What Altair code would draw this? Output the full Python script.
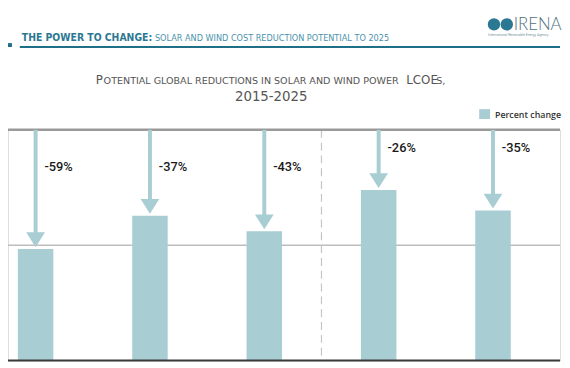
import altair as alt
import pandas as pd

# ---- data ----
categories = ["Solar PV", "CSP (PTC)", "CSP (ST)", "Onshore wind", "Offshore wind"]
values = [0.0966, 0.1256, 0.112, 0.1479, 0.130]          # bar heights (arbitrary LCOE units)
pct_labels = ["-59%", "-37%", "-43%", "-26%", "-35%"]
label_level = [0.1675, 0.1675, 0.1675, 0.1838, 0.1838]   # height of percentage labels
divider_after = ["CSP (ST)"]
grid_values = [0.1]
top_level = 0.2

BAR = "#a8cdd3"

df = pd.DataFrame({"cat": categories, "val": values, "lab": pct_labels, "ly": label_level})
df["top"] = top_level

W, H = 560, 234
xscale = alt.Scale(domain=categories, range=[-30, 550], paddingInner=0, paddingOuter=0)
yscale = alt.Scale(domain=[0, top_level])
X = alt.X("cat:N", scale=xscale, axis=None, sort=categories)

base = alt.Chart(df)

grid = alt.Chart(pd.DataFrame({"y": grid_values})).mark_rule(
    color="#bdbdbd", strokeWidth=1.5).encode(y=alt.Y("y:Q", scale=yscale, axis=None))

bars = base.mark_bar(size=36, color=BAR).encode(
    x=X, y=alt.Y("val:Q", scale=yscale, axis=None))

shaft = base.mark_rule(color=BAR, strokeWidth=4, y2Offset=-12).encode(
    x=X, y=alt.Y("top:Q", scale=yscale, axis=None), y2="val:Q")

arrow_path = "M-1,-0.79 L1,-0.79 L0,0.79 Z"
heads = base.mark_point(shape=arrow_path, size=361, filled=True, opacity=1,
                        color=BAR, strokeWidth=0, yOffset=-9.5).encode(
    x=X, y=alt.Y("val:Q", scale=yscale, axis=None))

labels = base.mark_text(align="left", baseline="middle", dx=9, font="Roboto",
                        fontSize=13, fontWeight=500, color="#1a1a1a").encode(
    x=X, y=alt.Y("ly:Q", scale=yscale, axis=None), text="lab:N")

divider = alt.Chart(pd.DataFrame({"cat": divider_after})).mark_rule(
    color="#c4c4c4", strokeWidth=1.2, strokeDash=[8, 5]).encode(
    x=alt.X("cat:N", scale=xscale, axis=None, sort=categories, bandPosition=1))

top_line = alt.Chart(pd.DataFrame({"y": [top_level]})).mark_rule(
    color="#9a9a9a", strokeWidth=2.5).encode(y=alt.Y("y:Q", scale=yscale, axis=None))
base_line = alt.Chart(pd.DataFrame({"y": [0.0]})).mark_rule(
    color="#3a3a3a", strokeWidth=2).encode(y=alt.Y("y:Q", scale=yscale, axis=None))

one = pd.DataFrame({"t": [""]})

def txt(s, x, y, **kw):
    return alt.Chart(pd.DataFrame({"t": [s]})).mark_text(**kw).encode(
        x=alt.value(x), y=alt.value(y), text="t:N")

# header (page coords minus 8 / 129)
hdr_bold = txt("THE POWER TO CHANGE:", 14, -90, align="left", baseline="alphabetic",
               font="DejaVu Sans Condensed, Liberation Sans Narrow, sans-serif",
               fontSize=10.5, fontWeight="bold", color="#2b7892")
hdr_light = txt("SOLAR AND WIND COST REDUCTION POTENTIAL TO 2025", 149, -90, align="left",
                baseline="alphabetic",
                font="Liberation Sans Narrow, DejaVu Sans Condensed, sans-serif",
                fontSize=9.2, color="#4a93ac")
hdr_line = alt.Chart(one).mark_rule(color="#1f6f88", strokeWidth=2).encode(
    x=alt.value(12), x2=alt.value(560), y=alt.value(-84))
hdr_sq = alt.Chart(one).mark_rect(color="#1f6f88").encode(
    x=alt.value(0), x2=alt.value(4), y=alt.value(-88), y2=alt.value(-84))

globes = alt.Chart(pd.DataFrame({"gx": [493, 506]})).mark_point(
    shape="circle", filled=True, size=160, opacity=1, color="#2b7892").encode(
    x=alt.X("gx:Q", scale=None), y=alt.value(-107))
irena = txt("IRENA", 513, -101, align="left", baseline="alphabetic", font="Lato",
            fontSize=17, fontWeight=300, color="#50707e")
irena_sub = txt("International Renewable Energy Agency", 487, -95, align="left",
                baseline="alphabetic", font="Roboto", fontSize=3.5, color="#7c98a4")

# chart title (small caps imitation)
t_font = "DejaVu Sans"
t_col = "#555555"
t1 = txt("P", 89, -47, align="left", baseline="alphabetic", font=t_font, fontSize=12, color=t_col)
t2 = txt("OTENTIAL GLOBAL REDUCTIONS IN SOLAR AND WIND POWER", 97, -47, align="left",
         baseline="alphabetic", font=t_font, fontSize=9.7, color=t_col)
t3 = txt("LCOE", 404, -47, align="left", baseline="alphabetic", font=t_font, fontSize=12, color=t_col)
t4 = txt("S,", 434.5, -47, align="left", baseline="alphabetic", font=t_font, fontSize=9.7, color=t_col)
t5 = txt("2015-2025", 267, -29, align="center", baseline="alphabetic", font=t_font,
         fontSize=13.5, color=t_col)

# legend
leg_sq = alt.Chart(one).mark_rect(color=BAR).encode(
    x=alt.value(478), x2=alt.value(489), y=alt.value(-21), y2=alt.value(-11))
leg_tx = txt("Percent change", 494, -12, align="left", baseline="alphabetic",
             font="Open Sans", fontSize=9, fontWeight=600, color="#333")

chart = alt.layer(
    grid, bars, divider, top_line, base_line, shaft, heads, labels,
    hdr_bold, hdr_light, hdr_line, hdr_sq, globes, irena, irena_sub,
    t1, t2, t3, t4, t5, leg_sq, leg_tx,
).properties(
    width=W, height=H, autosize="none",
    padding={"left": 0, "top": 121, "right": 2, "bottom": 5},
).configure_view(stroke=None).configure(background="white")

chart.save("out.html", embed_options={"renderer": "svg", "actions": False})
